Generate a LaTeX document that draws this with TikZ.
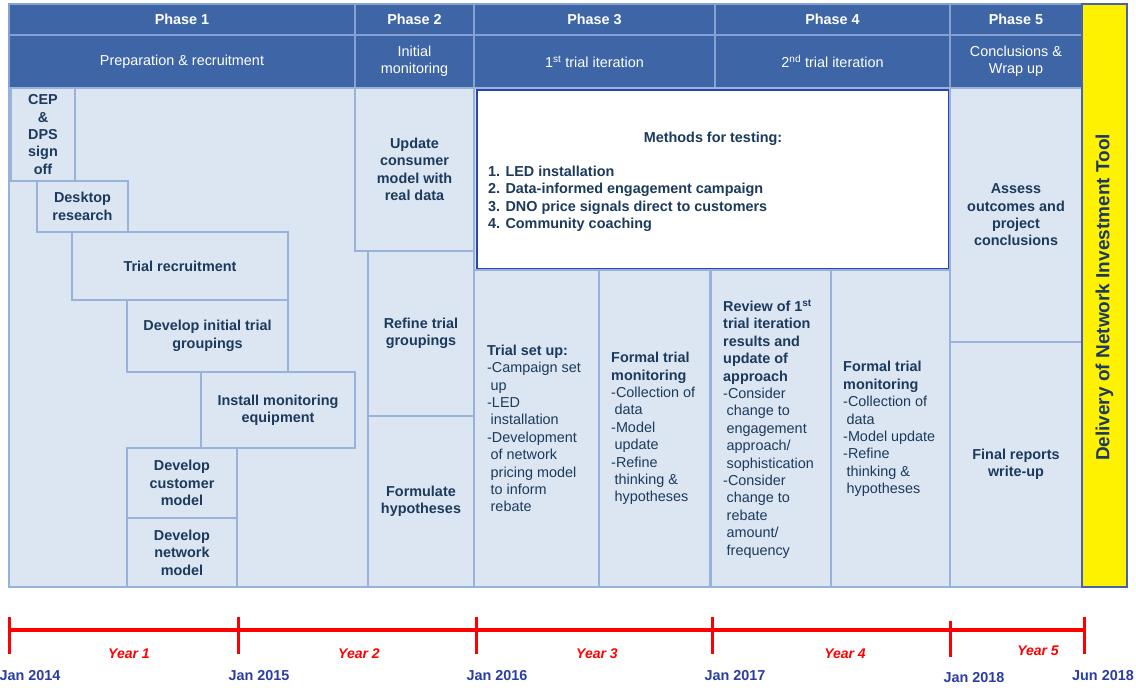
\documentclass[tikz,border=0pt]{standalone}
\usepackage{graphicx}
\usepackage{fontspec}
\setmainfont{Liberation Sans}
\usetikzlibrary{calc}
\definecolor{hdr}{HTML}{3E65A6}
\definecolor{hdrline}{HTML}{86A1D2}
\definecolor{bodyfill}{HTML}{DCE6F2}
\definecolor{bodyline}{HTML}{98B2DA}
\definecolor{txt}{HTML}{1B3A5C}
\definecolor{meth}{HTML}{2B44B5}
\definecolor{datec}{HTML}{2A3DA6}
\definecolor{ybord}{HTML}{4A62AE}
\newcommand\mkcell[7]{\node[#1, minimum width={(#5)-(#3)}, minimum height={(#6)-(#4)}] (#2) at ({((#3)+(#5))/2},{((#4)+(#6))/2}) {#7};}
\tikzset{
  hcell/.style={draw=hdrline, line width=1.6pt, fill=hdr, text=white, inner sep=0pt, align=center, font=\fontsize{14.4}{17.4}\selectfont},
  hcellb/.style={hcell, font=\bfseries\fontsize{14.4}{17.4}\selectfont},
  bcell/.style={draw=bodyline, line width=1.3pt, fill=bodyfill, text=txt, inner sep=0pt, align=center, font=\bfseries\fontsize{14.4}{17.4}\selectfont},
  mbox/.style={draw=meth, line width=2pt, fill=white, inner sep=0pt},
  toolbar/.style={draw=ybord, line width=2pt, fill=yellow, inner sep=0pt},
  coltext/.style={anchor=west, align=left, text=txt, inner sep=0pt, font=\fontsize{14.4}{17.4}\selectfont},
  boldtext/.style={text=txt, inner sep=0pt, align=left, font=\bfseries\fontsize{14.4}{17.4}\selectfont},
  tooltext/.style={rotate=90, text=txt, inner sep=0pt, font=\bfseries\fontsize{19}{22}\selectfont},
  tl/.style={red, line width=4pt},
  tlmark/.style={red, line width=3pt},
  datelbl/.style={text=datec, inner sep=0pt, font=\bfseries\fontsize{14.4}{16}\selectfont},
  yearlbl/.style={text=red, inner sep=0pt, font=\bfseries\itshape\fontsize{14}{16}\selectfont}
}
\begin{document}
\begin{tikzpicture}[x=1pt,y=-1pt]
\fill[white] (0,0) rectangle (1136,688);
\useasboundingbox (0,0) rectangle (1136,688);
% header row 1
\mkcell{hcellb}{p1}{9}{4}{355}{35}{Phase 1}
\mkcell{hcellb}{p2}{355}{4}{474}{35}{Phase 2}
\mkcell{hcellb}{p3}{474}{4}{715}{35}{Phase 3}
\mkcell{hcellb}{p4}{715}{4}{950}{35}{Phase 4}
\mkcell{hcellb}{p5}{950}{4}{1082}{35}{Phase 5}
% header row 2
\mkcell{hcell}{s1}{9}{35}{355}{88}{Preparation \& recruitment}
\mkcell{hcell}{s2}{355}{35}{474}{88}{Initial\\monitoring}
\mkcell{hcell}{s3}{474}{35}{715}{88}{1\textsuperscript{st} trial iteration}
\mkcell{hcell}{s4}{715}{35}{950}{88}{2\textsuperscript{nd} trial iteration}
\mkcell{hcell}{s5}{950}{35}{1082}{88}{Conclusions \&\\Wrap up}
% phase 1 body
\mkcell{bcell}{ph1}{9}{88}{368}{587}{}
\mkcell{bcell}{cep}{11}{88}{75}{181}{CEP\\\&\\DPS\\sign\\off}
\mkcell{bcell}{desk}{37}{181}{128}{232}{Desktop\\research}
\mkcell{bcell}{recruit}{72}{232}{288}{300}{Trial recruitment}
\mkcell{bcell}{groups}{127}{300}{288}{372}{Develop initial trial\\groupings}
\mkcell{bcell}{install}{201}{372}{355}{448}{Install monitoring\\equipment}
\mkcell{bcell}{cust}{127}{448}{237}{518}{Develop\\customer\\model}
\mkcell{bcell}{net}{127}{518}{237}{587}{Develop\\network\\model}
% phase 2 body
\mkcell{bcell}{update}{355}{88}{474}{251}{Update\\consumer\\model with\\real data}
\mkcell{bcell}{refine}{368}{251}{474}{416}{Refine trial\\groupings}
\mkcell{bcell}{formul}{368}{416}{474}{587}{Formulate\\hypotheses}
% phase 3-4 body
\mkcell{bcell}{mbg}{474}{88}{950}{270}{}
\mkcell{mbox}{methods}{477}{90}{949}{269}{}
\node[boldtext] (mtitle) at (713,139) {Methods for testing:};
\node[boldtext, anchor=west] (mlist) at (488,199) {1. LED installation\\2. Data-informed engagement campaign\\3. DNO price signals direct to customers\\4. Community coaching};
\mkcell{bcell}{colA}{474}{270}{599}{587}{}
\mkcell{bcell}{colB}{599}{270}{711}{587}{}
\mkcell{bcell}{colC}{711}{270}{831}{587}{}
\mkcell{bcell}{colD}{831}{270}{950}{587}{}
\draw[bodyline, line width=2pt] (colC.north west) -- (colC.south west);
\node[coltext] (tA) at (487,428.5) {\textbf{Trial set up:}\\-Campaign set\\\hspace*{3.5pt}up\\-LED\\\hspace*{3.5pt}installation\\-Development\\\hspace*{3.5pt}of network\\\hspace*{3.5pt}pricing model\\\hspace*{3.5pt}to inform\\\hspace*{3.5pt}rebate};
\node[coltext] (tB) at (611,428.5) {\textbf{Formal trial}\\\textbf{monitoring}\\-Collection of\\\hspace*{3.5pt}data\\-Model\\\hspace*{3.5pt}update\\-Refine\\\hspace*{3.5pt}thinking \&\\\hspace*{3.5pt}hypotheses};
\node[coltext] (tC) at (723,429) {\textbf{Review of 1\textsuperscript{st}}\\\textbf{trial iteration}\\\textbf{results and}\\\textbf{update of}\\\textbf{approach}\\-Consider\\\hspace*{3.5pt}change to\\\hspace*{3.5pt}engagement\\\hspace*{3.5pt}approach/\\\hspace*{3.5pt}sophistication\\-Consider\\\hspace*{3.5pt}change to\\\hspace*{3.5pt}rebate\\\hspace*{3.5pt}amount/\\\hspace*{3.5pt}frequency};
\node[coltext] (tD) at (843,429) {\textbf{Formal trial}\\\textbf{monitoring}\\-Collection of\\\hspace*{3.5pt}data\\-Model update\\-Refine\\\hspace*{3.5pt}thinking \&\\\hspace*{3.5pt}hypotheses};
% phase 5 body
\mkcell{bcell}{assess}{950}{88}{1082}{342}{Assess\\outcomes and\\project\\conclusions}
\mkcell{bcell}{final}{950}{342}{1082}{587}{Final reports\\write-up}
% tool bar
\mkcell{toolbar}{tool}{1082}{4}{1127}{587}{}
\node[tooltext] (tooltxt) at (1104.5,297.5) {Delivery of Network Investment Tool};
% timeline
\coordinate (t0) at (9.5,630);
\coordinate (t1) at (238,630);
\coordinate (t2) at (476,630);
\coordinate (t3) at (712,630);
\coordinate (t4) at (950,630);
\coordinate (t5) at (1084,630);
\draw[tl] (t0) -- (t5);
\foreach \t in {t0,t1,t2,t3,t5} \draw[tlmark] ($(\t)+(0,-13)$) -- ($(\t)+(0,24)$);
\draw[tlmark] ($(t4)+(0,-9)$) -- ($(t4)+(0,27)$);
\node[yearlbl] (y1) at (129,654) {Year 1};
\node[yearlbl] (y2) at (359,654) {Year 2};
\node[yearlbl] (y3) at (597,654) {Year 3};
\node[yearlbl] (y4) at (845,654) {Year 4};
\node[yearlbl] (y5) at (1038,651) {Year 5};
\node[datelbl] (d0) at (30,676) {Jan 2014};
\node[datelbl] (d1) at (259,676) {Jan 2015};
\node[datelbl] (d2) at (497,676) {Jan 2016};
\node[datelbl] (d3) at (735,676) {Jan 2017};
\node[datelbl] (d4) at (974,678) {Jan 2018};
\node[datelbl] (d5) at (1103,676) {Jun 2018};
\end{tikzpicture}
\end{document}
